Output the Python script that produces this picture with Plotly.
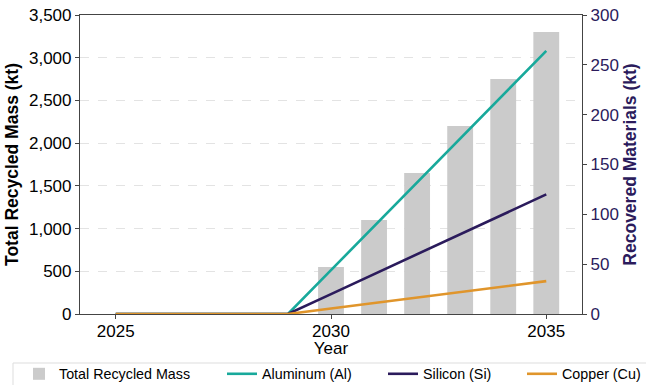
import plotly.graph_objects as go

years = [2025, 2026, 2027, 2028, 2029, 2030, 2031, 2032, 2033, 2034, 2035]
total_mass = [0, 0, 0, 0, 0, 550, 1100, 1650, 2200, 2750, 3300]
aluminum = [0, 0, 0, 0, 0, 44, 88, 132, 176, 220, 264]
silicon = [0, 0, 0, 0, 0, 20, 40, 60, 80, 100, 120]
copper = [0, 0, 0, 0, 0, 5.5, 11, 16.5, 22, 27.5, 33]

FONT = "Liberation Sans, Arial, sans-serif"
PURPLE = "#2b1b5c"

fig = go.Figure()
fig.add_trace(go.Bar(x=years, y=total_mass, name="Total Recycled Mass", legend="legend",
                     marker=dict(color="#cbcbcb", line=dict(width=0)), width=0.6))
fig.add_trace(go.Scatter(x=years, y=aluminum, name="Aluminum (Al)", mode="lines", legend="legend2",
                         line=dict(color="#18a99b", width=2.6), yaxis="y2"))
fig.add_trace(go.Scatter(x=years, y=silicon, name="Silicon (Si)", mode="lines", legend="legend3",
                         line=dict(color=PURPLE, width=2.6), yaxis="y2"))
fig.add_trace(go.Scatter(x=years, y=copper, name="Copper (Cu)", mode="lines", legend="legend4",
                         line=dict(color="#e0952b", width=2.6), yaxis="y2"))

fig.add_shape(type="rect", xref="paper", yref="paper",
              x0=(13 - 80) / 502, x1=(670 - 80) / 502,
              y0=(314 - 363) / 299, y1=(314 - 420) / 299,
              line=dict(color="#dddddd", width=1), fillcolor="rgba(0,0,0,0)", layer="above")


def leg(xpx):
    return dict(orientation="h", xref="container", yref="container",
                x=xpx / 646, y=(385 - 358) / 385, xanchor="left", yanchor="top",
                borderwidth=0, font=dict(size=14.3), bgcolor="rgba(0,0,0,0)")


fig.update_layout(
    width=646, height=385,
    margin=dict(l=80, r=64, t=15, b=71),
    plot_bgcolor="white", paper_bgcolor="white",
    font=dict(family=FONT, size=17, color="black"),
    showlegend=True,
    legend=leg(19), legend2=leg(222), legend3=leg(383), legend4=leg(522),
    xaxis=dict(range=[2024.17, 2035.83], tickvals=[2025, 2030, 2035],
               showline=True, linecolor="#444", linewidth=1.2, mirror=True,
               ticks="outside", ticklen=4, tickcolor="#444", showgrid=False,
               zeroline=False, automargin=False, ticklabelstandoff=-3,
               title=dict(text="Year", font=dict(size=17), standoff=2)),
    yaxis=dict(range=[0, 3500], tickvals=list(range(0, 3501, 500)), tickformat=",",
               showline=True, linecolor="#444", linewidth=1.2,
               ticks="outside", ticklen=4, tickcolor="#444",
               showgrid=True, gridcolor="#e3e3e3", griddash="dash", gridwidth=1,
               zeroline=False, automargin=False,
               title=dict(text="<b>Total Recycled Mass (kt)</b>", font=dict(size=17.5), standoff=5)),
    yaxis2=dict(range=[0, 300], tickvals=list(range(0, 301, 50)), overlaying="y", side="right",
                showline=True, linecolor="#444", linewidth=1.2,
                ticks="outside", ticklen=4, tickcolor="#444",
                tickfont=dict(color=PURPLE), showgrid=False, zeroline=False, automargin=False,
                title=dict(text="<b>Recovered Materials (kt)</b>", font=dict(size=17.5, color=PURPLE), standoff=5)),
)

fig.write_html("out.html")
